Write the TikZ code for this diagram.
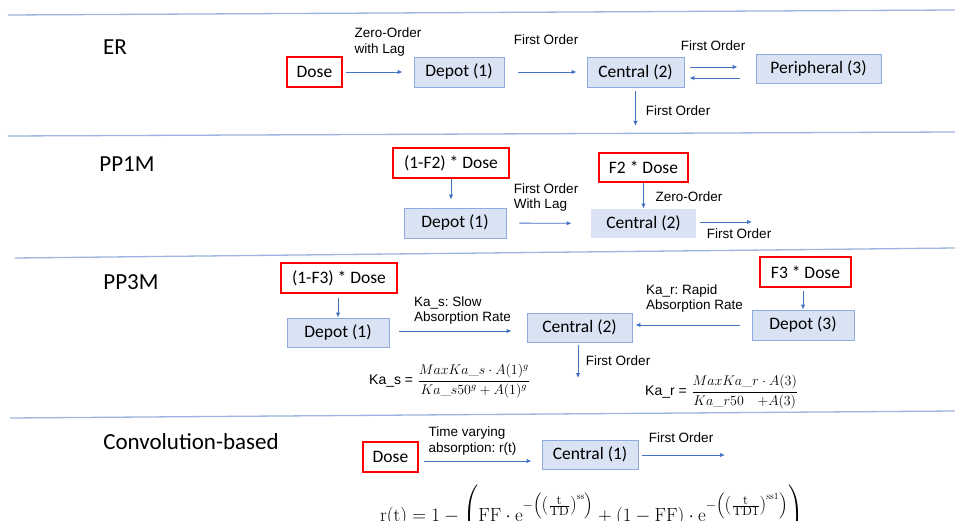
\RequirePackage{fix-cm}
\documentclass[tikz,border=0pt]{standalone}
\usepackage{fontspec}
\usepackage{amsmath}
\usetikzlibrary{arrows.meta}
\newfontfamily\carlito{Carlito}
\newfontfamily\arialf{Liberation Sans}
\definecolor{boxfill}{HTML}{DAE3F3}
\definecolor{boxline}{HTML}{8FAADC}
\definecolor{flowblue}{HTML}{4472C4}
\definecolor{rulecol}{HTML}{9DB5E0}
\definecolor{doseline}{HTML}{FF0000}
\frenchspacing
\tikzset{
  comp/.style={draw=boxline, fill=boxfill, line width=0.9pt, inner sep=0pt, font=\carlito\fontsize{17.5}{20}\selectfont},
  dosebox/.style={draw=doseline, line width=1.8pt, fill=white, inner sep=0pt, font=\carlito\fontsize{17.5}{20}\selectfont},
  lbl/.style={font=\arialf\fontsize{13.5}{15.5}\selectfont, align=left, inner sep=0pt},
  title/.style={font=\carlito\fontsize{23}{26}\selectfont, inner sep=0pt},
  flow/.style={draw=flowblue, line width=0.9pt, -{Latex[length=5pt,width=4.5pt]}},
  sep/.style={draw=rulecol, line width=1.3pt},
}
\begin{document}
\begin{tikzpicture}[x=1pt,y=-1pt]
            \useasboundingbox (0,0) rectangle (955,521);
            \clip (0,0) rectangle (955,521);
            \fill [white] (0,0) rectangle (955,521);
            \draw [sep] (8,15) -- (955,10);
            \draw [sep] (8,136) -- (955,132);
            \draw [sep] (15,258) -- (955,248);
            \draw [sep] (10,418) -- (955,411);
            % ER
            \node [title] (ertitle) at (115,47) {ER};
            \node [dosebox, minimum width=55pt, minimum height=30pt] (erdose) at (314.5,72) {Dose};
            \node [comp, minimum width=90pt, minimum height=30pt] (erdepot) at (459,72) {Depot (1)};
            \node [comp, minimum width=97pt, minimum height=30pt] (ercentral) at (635.5,72) {Central (2)};
            \node [comp, minimum width=125pt, minimum height=29pt] (erperiph) at (818.5,68.5) {Peripheral (3)};
            \node [lbl] (erlag) at (388,42) {Zero-Order\\with Lag};
            \node [lbl] (erka) at (546,40) {First Order};
            \node [lbl] (erq) at (713,46) {First Order};
            \node [lbl] (erk) at (678,111) {First Order};
            \coordinate (erout) at (635.5,126);
            \draw [flow, shorten <=3pt, shorten >=11pt] (erdose) -- (erdepot);
            \draw [flow, shorten <=14pt, shorten >=10pt] (erdepot) -- (ercentral);
            \draw [flow] ([xshift=6pt,yshift=5pt]ercentral.east) -- ([xshift=-18pt,yshift=1.5pt]erperiph.west);
            \draw [flow] ([xshift=-16pt,yshift=-9.5pt]erperiph.west) -- ([xshift=5pt,yshift=-6pt]ercentral.east);
            \draw [flow, shorten <=4pt] (ercentral.south) -- (erout);
            % PP1M
            \node [title] (pp1title) at (127,164) {PP1M};
            \node [dosebox, minimum width=116pt, minimum height=30pt] (pp1dose) at (451,163) {(1-F2) * Dose};
            \node [comp, minimum width=102pt, minimum height=30pt] (pp1depot) at (455,223) {Depot (1)};
            \node [dosebox, minimum width=89pt, minimum height=29pt] (pp1fdose) at (643.5,167.5) {F2 * Dose};
            \node [comp, draw=none, minimum width=105pt, minimum height=29pt] (pp1central) at (643.5,223.5) {Central (2)};
            \node [lbl] (pp1lag) at (546,197.5) {First Order\\With Lag};
            \node [lbl] (pp1zero) at (689,197) {Zero-Order};
            \node [lbl] (pp1k) at (739,234) {First Order};
            \coordinate (pp1out) at (752,222);
            \draw [flow, shorten >=8pt] (pp1dose.south) -- (pp1dose.south |- pp1depot.north);
            \draw [flow, shorten <=13pt, shorten >=19pt] (pp1depot) -- (pp1central);
            \draw [flow] (pp1fdose) -- (pp1central);
            \draw [flow, shorten <=4pt] (pp1central.east |- pp1out) -- (pp1out);
            % PP3M
            \node [title] (pp3title) at (131,282) {PP3M};
            \node [dosebox, minimum width=116pt, minimum height=30pt] (pp3dose) at (339,278) {(1-F3) * Dose};
            \node [comp, minimum width=102pt, minimum height=29pt] (pp3depot) at (338,332.5) {Depot (1)};
            \node [comp, minimum width=105pt, minimum height=29pt] (pp3central) at (579.5,327.5) {Central (2)};
            \node [comp, minimum width=102pt, minimum height=30pt] (pp3rdepot) at (803,325) {Depot (3)};
            \node [dosebox, minimum width=91pt, minimum height=30pt] (pp3fdose) at (805.5,272) {F3 * Dose};
            \node [lbl] (pp3slow) at (462.5,310.5) {Ka\_s: Slow\\Absorption Rate};
            \node [lbl] (pp3rapid) at (694.5,298.5) {Ka\_r: Rapid\\Absorption Rate};
            \node [lbl] (pp3k) at (618,361) {First Order};
            \coordinate (pp3out) at (578,378);
            \draw [flow, shorten <=4pt] (pp3dose.south -| pp3depot.north) -- (pp3depot.north);
            \draw [flow, shorten <=10pt, shorten >=15pt] ([yshift=1.5pt]pp3depot.east) -- ([yshift=1.5pt]pp3depot.east -| pp3central.west);
            \draw [flow, shorten <=12pt, shorten >=3pt] (pp3rdepot.west) -- (pp3rdepot.west -| pp3central.east);
            \draw [flow, shorten <=3pt] (pp3fdose.south -| pp3rdepot.north) -- (pp3rdepot.north);
            \draw [flow, shorten <=3pt] (pp3central.south -| pp3out) -- (pp3out);
            \node [inner sep=0pt, anchor=west, font=\fontsize{14}{16}\selectfont] (kas) at (369,381)
                {{\arialf\fontsize{14}{16}\selectfont Ka\_s =} $\displaystyle\frac{MaxKa\_s\cdot A(1)^g}{Ka\_s50^g+A(1)^g}$};
            \node [inner sep=0pt, anchor=west, font=\fontsize{14}{16}\selectfont] (kar) at (645,392)
                {{\arialf\fontsize{14}{16}\selectfont Ka\_r =} $\displaystyle\frac{MaxKa\_r\cdot A(3)}{Ka\_r50\ \ \ {+}A(3)}$};
            % Convolution-based
            \node [title] (cvtitle) at (191,442) {Convolution-based};
            \node [dosebox, minimum width=55pt, minimum height=30pt] (cvdose) at (390.5,457) {Dose};
            \node [comp, minimum width=96pt, minimum height=29pt] (cvcentral) at (590,454.5) {Central (1)};
            \node [lbl] (cvtime) at (472.5,441) {Time varying\\absorption: r(t)};
            \node [lbl] (cvk) at (681,438) {First Order};
            \coordinate (cvout) at (725,455);
            \draw [flow, shorten <=5pt, shorten >=10pt] ([yshift=-4pt]cvdose.east) -- ([yshift=-4pt]cvdose.east -| cvcentral.west);
            \draw [flow, shorten <=4pt] (cvcentral.east |- cvout) -- (cvout);
            \node [anchor=base west, inner sep=0pt, font=\fontsize{19}{22}\selectfont] (rt) at (380,521)
                {$\mathrm{r(t)}=1-\Biggl(\mathrm{FF}\cdot\mathrm{e}^{-\left(\left(\frac{\scriptstyle\mathrm{t}}{\scriptstyle\mathrm{TD}}\right)^{\mathrm{ss}}\right)}+(1-\mathrm{FF})\cdot\mathrm{e}^{-\left(\left(\frac{\scriptstyle\mathrm{t}}{\scriptstyle\mathrm{TD1}}\right)^{\mathrm{ss1}}\right)}\Biggr)$};
        \end{tikzpicture}
\end{document}
